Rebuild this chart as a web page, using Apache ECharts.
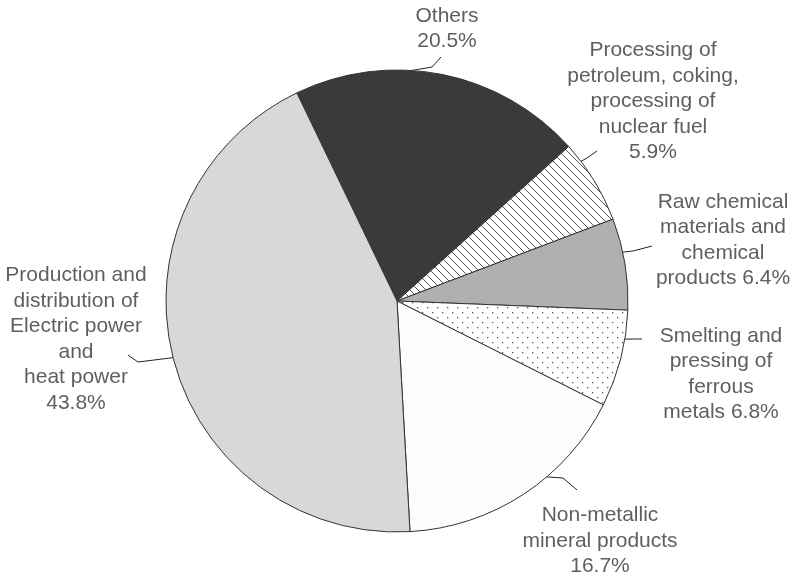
<!DOCTYPE html>
<html>
<head>
<meta charset="utf-8">
<script src="https://cdn.jsdelivr.net/npm/echarts@6/dist/echarts.min.js"></script>
<style>
  html, body { margin: 0; padding: 0; background: #fff; }
  #container { width: 795px; height: 578px; }
</style>
</head>
<body>
<div id="container"></div>
<script>
;(function() {
  // slices, clockwise from the top-left edge of "Others"
  var names = [
    'Others',
    'Processing of\npetroleum, coking,\nprocessing of\nnuclear fuel',
    'Raw chemical\nmaterials and\nchemical\nproducts',
    'Smelting and\npressing of\nferrous\nmetals',
    'Non-metallic\nmineral products',
    'Production and\ndistribution of\nElectric power\nand\nheat power'
  ]
  var values = [20.5, 5.9, 6.4, 6.8, 16.7, 43.8]
  var seps = ['\n', '\n', ' ', ' ', '\n', '\n']

  // label block centres
  var labelX = [447, 653, 723, 721, 600, 76]
  var labelY = [28.5, 101.5, 240, 374, 541, 339]
  // leader lines: angle where they leave the rim, then knee and end near the label
  var leaderAngle = [86.3, 37.2, 12.2, -9.5, -49.6, -165.8]
  var leaderKnee = [[432, 67], [587, 158], [633, 251], [633, 339], [563, 478], [138, 362]]
  var leaderEnd = [[441, 57], [597, 151], [652, 246], [642, 339], [577, 490], [128, 355]]

  var cx = 397, cy = 301, r = 231

  function hatch() {
    var c = document.createElement('canvas')
    c.width = 8; c.height = 8
    var g = c.getContext('2d')
    g.fillStyle = '#fff'
    g.fillRect(0, 0, 8, 8)
    g.strokeStyle = '#555'
    g.lineWidth = 1
    g.beginPath()
    g.moveTo(-1, -1); g.lineTo(9, 9)
    g.moveTo(-1, 7); g.lineTo(1, 9)
    g.moveTo(7, -1); g.lineTo(9, 1)
    g.stroke()
    return c
  }

  function dots() {
    var c = document.createElement('canvas')
    c.width = 10; c.height = 10
    var g = c.getContext('2d')
    g.fillStyle = '#fff'
    g.fillRect(0, 0, 10, 10)
    g.fillStyle = '#555'
    g.fillRect(2, 2, 1.3, 1.3)
    g.fillRect(7, 7, 1.3, 1.3)
    return c
  }

  var colors = [
    '#3a3a3a',
    { image: hatch(), repeat: 'repeat' },
    '#b0b0b0',
    { image: dots(), repeat: 'repeat' },
    '#fcfcfc',
    '#d8d8d8'
  ]

  var data = []
  for (var i = 0; i < names.length; i++) {
    data.push({ name: names[i], value: values[i], itemStyle: { color: colors[i] } })
  }

  var myChart = echarts.init(document.getElementById('container'))
  myChart.setOption({
    animation: false,
    series: [{
      type: 'pie',
      center: [cx, cy],
      radius: r,
      startAngle: 115.7,
      clockwise: true,
      avoidLabelOverlap: false,
      emphasis: { disabled: true },
      itemStyle: { borderColor: '#333', borderWidth: 1 },
      label: {
        show: true,
        position: 'outside',
        color: '#5f5f5f',
        fontFamily: 'Liberation Sans, Arial, sans-serif',
        fontSize: 21,
        lineHeight: 25.5,
        align: 'center',
        formatter: function(p) {
          return p.name + seps[p.dataIndex] + p.value.toFixed(1) + '%'
        }
      },
      labelLine: {
        show: true,
        length: 10,
        length2: 10,
        lineStyle: { color: '#222', width: 1 }
      },
      labelLayout: function(p) {
        var i = p.dataIndex
        var a = leaderAngle[i] * Math.PI / 180
        var rim = [cx + r * Math.cos(a), cy - r * Math.sin(a)]
        return {
          x: labelX[i],
          y: labelY[i],
          align: 'center',
          verticalAlign: 'middle',
          labelLinePoints: [rim, leaderKnee[i], leaderEnd[i]]
        }
      },
      data: data
    }]
  })
})()
</script>
</body>
</html>
